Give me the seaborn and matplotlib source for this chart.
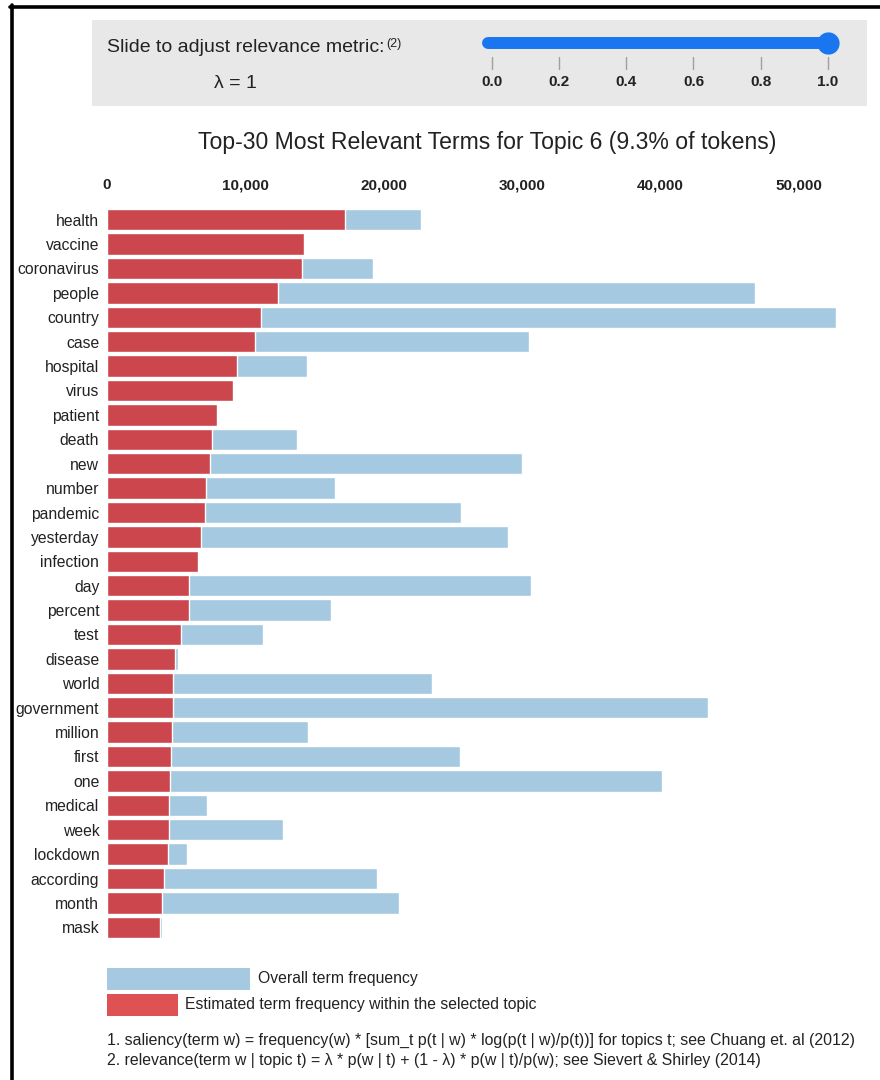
import numpy as np
import pandas as pd
import matplotlib
matplotlib.use("Agg")
import matplotlib.pyplot as plt
import seaborn as sns
from matplotlib.patches import Rectangle
from matplotlib.lines import Line2D

terms = ["health", "vaccine", "coronavirus", "people", "country", "case", "hospital",
         "virus", "patient", "death", "new", "number", "pandemic", "yesterday",
         "infection", "day", "percent", "test", "disease", "world", "government",
         "million", "first", "one", "medical", "week", "lockdown", "according",
         "month", "mask"]
topic_freq = [17200, 14200, 14100, 12350, 11100, 10700, 9370, 9100, 7930, 7600,
              7420, 7150, 7100, 6800, 6550, 5950, 5900, 5350, 4900, 4800,
              4750, 4700, 4620, 4550, 4500, 4500, 4400, 4120, 3970, 3850]
total_freq = [22700, 14250, 19200, 46800, 52700, 30500, 14450, 9150, 7980, 13700,
              30000, 16450, 25600, 29000, 6600, 30600, 16200, 11300, 5100, 23500,
              43400, 14500, 25500, 40100, 7250, 12750, 5760, 19500, 21100, 4000]
x_ticks = [0, 10000, 20000, 30000, 40000, 50000]
slider_ticks = [0.0, 0.2, 0.4, 0.6, 0.8, 1.0]
title = "Top-30 Most Relevant Terms for Topic 6 (9.3% of tokens)"
legend_labels = ["Overall term frequency", "Estimated term frequency within the selected topic"]
footnotes = ["1. saliency(term w) = frequency(w) * [sum_t p(t | w) * log(p(t | w)/p(t))] for topics t; see Chuang et. al (2012)",
             "2. relevance(term w | topic t) = \u03bb * p(w | t) + (1 - \u03bb) * p(w | t)/p(w); see Sievert & Shirley (2014)"]

df = pd.DataFrame({"term": terms, "topic": topic_freq, "total": total_freq})

sns.set_theme(style="white")
plt.rcParams['font.family'] = ['Liberation Sans', 'DejaVu Sans']

W, H = 880, 1080
fig = plt.figure(figsize=(W / 100, H / 100), dpi=100)
fig.patch.set_facecolor("white")

def fx(x):
    return x / W

def fy(y):
    return 1 - y / H

BLUE = "#a5c9e1"
RED_BAR = "#cc474d"
RED_LEG = "#de5253"
TEXT = "#222222"

# main axes
xmax = 53000
px_per_unit = 692 / 50000
ax_left, ax_top, ax_bottom = 107, 207.5, 939.5
ax_w = xmax * px_per_unit
ax = fig.add_axes([fx(ax_left), fy(ax_bottom), ax_w / W, (ax_bottom - ax_top) / H])
sns.barplot(data=df, x="total", y="term", orient="h", color=BLUE, saturation=1,
            width=0.88, ax=ax)
sns.barplot(data=df, x="topic", y="term", orient="h", color=RED_BAR, saturation=1,
            width=0.88, ax=ax)
ax.set_xlim(0, xmax)
ax.set_ylim(len(terms) - 0.5, -0.5)
ax.set_xlabel("")
ax.set_ylabel("")
for s in ax.spines.values():
    s.set_visible(False)
ax.xaxis.tick_top()
ax.set_xticks(x_ticks)
ax.set_xticklabels([f"{v:,}" for v in x_ticks], fontsize=11, fontweight="bold", color=TEXT)
ax.tick_params(axis="x", length=0, pad=11)
ax.tick_params(axis="y", length=0, pad=5.5, labelsize=11.3, labelcolor=TEXT)
ax.grid(False)

# title
fig.text(fx(487), fy(143), title, ha="center", va="center", fontsize=16.6, color=TEXT)

# slider panel
fig.patches.append(Rectangle((fx(92), fy(106)), (867 - 92) / W, (106 - 20) / H,
                             transform=fig.transFigure, facecolor="#e8e8e8",
                             edgecolor="none", zorder=0))
slide_txt = fig.text(fx(107), fy(48), "Slide to adjust relevance metric:", ha="left",
                     va="center", fontsize=14, color=TEXT)
renderer = fig.canvas.get_renderer()
bb = slide_txt.get_window_extent(renderer=renderer)
fig.text(bb.x1 / W + 2 / W, fy(44), "(2)", ha="left", va="center", fontsize=9, color=TEXT)
fig.text(fx(235), fy(83), "\u03bb = 1", ha="center", va="center", fontsize=14, color=TEXT)
x0, x1 = 488, 828
fig.lines.append(Line2D([fx(x0), fx(x1)], [fy(43), fy(43)], transform=fig.transFigure,
                        color="#1a75f0", linewidth=8.6, solid_capstyle="round"))
fig.lines.append(Line2D([fx(x1)], [fy(43)], transform=fig.transFigure, marker="o",
                        markersize=15, color="#1a75f0", linestyle="none"))
t0, t1 = 491.7, 828
for t in slider_ticks:
    xp = t0 + (t1 - t0) * t
    fig.lines.append(Line2D([fx(xp), fx(xp)], [fy(57), fy(69)], transform=fig.transFigure,
                            color="#a0a0a0", linewidth=1.0))
    fig.text(fx(xp), fy(82), f"{t:.1f}", ha="center", va="center", fontsize=11,
             fontweight="bold", color=TEXT)

# legend
fig.patches.append(Rectangle((fx(107), fy(990)), (250 - 107) / W, 22 / H,
                             transform=fig.transFigure, facecolor=BLUE, edgecolor="none"))
fig.text(fx(258), fy(978), legend_labels[0], ha="left", va="center", fontsize=11.3, color=TEXT)
fig.patches.append(Rectangle((fx(107), fy(1016)), (178 - 107) / W, 22 / H,
                             transform=fig.transFigure, facecolor=RED_LEG, edgecolor="none"))
fig.text(fx(185), fy(1005), legend_labels[1], ha="left", va="center", fontsize=11.3, color=TEXT)

# footnotes
fig.text(fx(107), fy(1040), footnotes[0], ha="left", va="center", fontsize=11.4, color=TEXT)
fig.text(fx(107), fy(1060), footnotes[1], ha="left", va="center", fontsize=11.4, color=TEXT)

# frame lines
fig.lines.append(Line2D([fx(11.5), fx(11.5)], [fy(5), fy(1080)], transform=fig.transFigure,
                        color="black", linewidth=2.6))
fig.lines.append(Line2D([fx(10), fx(880)], [fy(6.5), fy(6.5)], transform=fig.transFigure,
                        color="black", linewidth=2.6))

fig.savefig("out.png", dpi=100, facecolor="white")
